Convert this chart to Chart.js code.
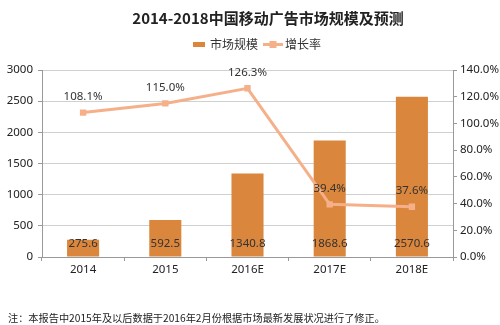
<!DOCTYPE html>
<html><head><meta charset="utf-8">
<script src="https://cdn.jsdelivr.net/npm/chart.js@4"></script>
<style>html,body{margin:0;padding:0;background:#fff}#wrap{width:500px;height:325px;position:relative}</style>
</head><body><div id="wrap"><canvas id="c" width="500" height="325"></canvas></div>
<script>
const categories = ['2014', '2015', '2016E', '2017E', '2018E'];
const marketSize = [275.6, 592.5, 1340.8, 1868.6, 2570.6];
const growthRate = [108.1, 115.0, 126.3, 39.4, 37.6];
const leftTicks = [0, 500, 1000, 1500, 2000, 2500, 3000];
const rightTicks = [0, 20, 40, 60, 80, 100, 120, 140];

const TITLE = '2014-2018中国移动广告市场规模及预测';
const NOTE = '注：本报告中2015年及以后数据于2016年2月份根据市场最新发展状况进行了修正。';
const BAR_C = '#DA863C';
const LINE_C = '#F5B08A';
const FONT = '"Noto Sans CJK SC", "Noto Sans", sans-serif';
const NUMF = '"Noto Sans", sans-serif';

const deco = {
  id: 'deco',
  afterDraw(chart) {
    const ctx = chart.ctx;
    ctx.save();
    ctx.fillStyle = '#222';
    ctx.font = 'bold 15px ' + FONT;
    ctx.textAlign = 'center';
    ctx.textBaseline = 'middle';
    ctx.fillText(TITLE, 268, 18);
    // legend
    ctx.fillStyle = BAR_C;
    ctx.fillRect(193, 42, 12, 5);
    ctx.font = '12px ' + FONT;
    ctx.fillStyle = '#333';
    ctx.textAlign = 'left';
    ctx.fillText('市场规模', 210, 44.5);
    ctx.strokeStyle = LINE_C; ctx.lineWidth = 3;
    ctx.beginPath(); ctx.moveTo(263, 44.5); ctx.lineTo(283, 44.5); ctx.stroke();
    ctx.fillStyle = LINE_C; ctx.fillRect(269.5, 41, 7, 7);
    ctx.fillStyle = '#333';
    ctx.fillText('增长率', 285, 44.5);
    // note
    ctx.font = '10.2px ' + FONT;
    ctx.fillStyle = '#222';
    ctx.fillText(NOTE, 8, 318);
    // data labels
    ctx.font = '11.5px ' + NUMF;
    ctx.fillStyle = '#333';
    ctx.textAlign = 'center';
    const bm = chart.getDatasetMeta(0);
    bm.data.forEach((el, i) => {
      ctx.fillText(marketSize[i].toFixed(1), el.x, el.base - 13);
    });
    const lm = chart.getDatasetMeta(1);
    lm.data.forEach((el, i) => {
      ctx.fillText(growthRate[i].toFixed(1) + '%', el.x, el.y - 16);
    });
    ctx.restore();
  }
};

new Chart(document.getElementById('c'), {
  data: {
    labels: categories,
    datasets: [
      { type: 'bar', label: '市场规模', data: marketSize, backgroundColor: BAR_C, yAxisID: 'y', barPercentage: 0.78, categoryPercentage: 0.5, order: 2 },
      { type: 'line', label: '增长率', data: growthRate, borderColor: LINE_C, backgroundColor: LINE_C, borderWidth: 3, pointStyle: 'rect', pointRadius: 4.5, pointBackgroundColor: LINE_C, pointBorderWidth: 0, yAxisID: 'y1', tension: 0, order: 1 }
    ]
  },
  options: {
    responsive: false, animation: false, devicePixelRatio: 1,
    layout: { padding: { top: 70, bottom: 30, left: 0, right: 0 } },
    plugins: { legend: { display: false }, title: { display: false }, tooltip: { enabled: false } },
    scales: {
      x: {
        offset: true,
        grid: { offset: true, drawOnChartArea: false, tickLength: 4, color: '#999' },
        border: { color: '#999' },
        ticks: { color: '#222', font: { size: 11.5, family: NUMF }, padding: 2 },
        afterFit(s) { s.height = 38; }
      },
      y: {
        position: 'left', min: 0, max: 3000,
        afterBuildTicks(s) { s.ticks = leftTicks.map(v => ({ value: v })); },
        grid: { color: '#d0d0d0', tickLength: 4, tickColor: '#999' },
        border: { color: '#999' },
        ticks: { color: '#222', font: { size: 11.5, family: NUMF }, padding: 5, callback: v => String(v) },
        afterFit(s) { s.width = 42; }
      },
      y1: {
        position: 'right', min: 0, max: 140,
        afterBuildTicks(s) { s.ticks = rightTicks.map(v => ({ value: v })); },
        grid: { drawOnChartArea: false, tickLength: 4, color: '#999' },
        border: { color: '#999' },
        ticks: { color: '#222', font: { size: 11.5, family: NUMF }, padding: 3, callback: v => v.toFixed(1) + '%' },
        afterFit(s) { s.width = 47; }
      }
    }
  },
  plugins: [deco]
});
</script></body></html>
